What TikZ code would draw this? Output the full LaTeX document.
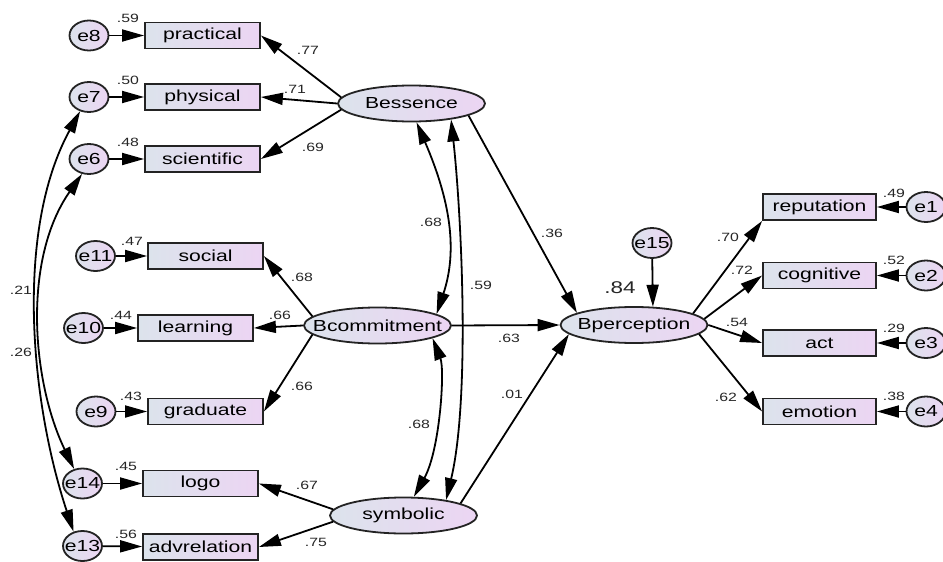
\documentclass[tikz,border=0pt]{standalone}
\usepackage{fontspec}
\usetikzlibrary{arrows.meta,shapes.geometric}
\newfontfamily\nf[FakeStretch=1.32]{Liberation Sans}
\definecolor{cL}{RGB}{220,227,236}
\definecolor{cR}{RGB}{236,213,243}
\definecolor{bord}{RGB}{35,35,35}
\tikzset{
  obs/.style={rectangle, draw=bord, line width=1.8pt, minimum width=115pt, minimum height=26pt,
    inner sep=0pt, left color=cL, right color=cR, font={\nf\fontsize{16}{16}\selectfont}},
  lat/.style={ellipse, draw=bord, line width=1.8pt, minimum width=147pt, minimum height=36pt,
    inner sep=0pt, left color=cL, right color=cR, font={\nf\fontsize{16}{16}\selectfont}},
  err/.style={ellipse, draw=bord, line width=1.8pt, minimum width=39pt, minimum height=30pt,
    inner sep=0pt, left color=cL, right color=cR, font={\nf\fontsize{16}{16}\selectfont}},
  lbl/.style={inner sep=0pt, font={\nf\fontsize{12}{12}\selectfont}, text=black!85},
  reg/.style={line width=1.8pt, draw=black, -{Triangle[length=22pt,width=12pt]}},
  cov/.style={line width=1.8pt, draw=black, {Triangle[length=22pt,width=12pt]}-{Triangle[length=22pt,width=12pt]}},
}
\begin{document}
\begin{tikzpicture}[x=1pt,y=-1pt]
\useasboundingbox (0,0) rectangle (943,562);
% observed variables
\node[obs] (prac) at (202.5,35.5) {practical};
\node[obs] (phys) at (202.5,97) {physical};
\node[obs] (sci) at (202.5,159) {scientific};
\node[obs] (soc) at (205.5,256) {social};
\node[obs] (lea) at (195.5,328) {learning};
\node[obs] (gra) at (205.5,411.5) {graduate};
\node[obs] (logo) at (200.5,483.5) {logo};
\node[obs] (adv) at (200.5,547) {advrelation};
\node[obs,minimum width=113pt] (rep) at (819.5,207) {reputation};
\node[obs,minimum width=113pt] (cog) at (819.5,275.5) {cognitive};
\node[obs,minimum width=113pt] (act) at (819.5,343) {act};
\node[obs,minimum width=113pt] (emo) at (819.5,411.5) {emotion};
% error terms
\node[err] (e8) at (89,35.5) {\makebox[0pt]{e8}};
\node[err] (e7) at (89,97) {\makebox[0pt]{e7}};
\node[err] (e6) at (89,159) {\makebox[0pt]{e6}};
\node[err] (e11) at (95.5,256) {\makebox[0pt]{e11}};
\node[err] (e10) at (83.5,328) {\makebox[0pt]{e10}};
\node[err] (e9) at (96,411.5) {\makebox[0pt]{e9}};
\node[err] (e14) at (82.5,483.5) {\makebox[0pt]{e14}};
\node[err] (e13) at (82.5,546) {\makebox[0pt]{e13}};
\node[err] (e15) at (652,243) {\makebox[0pt]{e15}};
\node[err] (e1) at (926,207) {\makebox[0pt]{e1}};
\node[err] (e2) at (926,275.5) {\makebox[0pt]{e2}};
\node[err] (e3) at (926,343) {\makebox[0pt]{e3}};
\node[err] (e4) at (926,411.5) {\makebox[0pt]{e4}};
% latent variables
\node[lat] (bess) at (411.5,103.5) {\makebox[0pt]{Bessence}};
\node[lat] (bcomm) at (377.5,325.5) {\makebox[0pt]{Bcommitment}};
\node[lat] (sym) at (403.5,515.5) {\makebox[0pt]{symbolic}};
\node[lat] (bper) at (634,325) {\makebox[0pt]{Bperception}};
% error arrows
\draw[reg] (e8) -- (prac);
\draw[reg] (e7) -- (phys);
\draw[reg] (e6) -- (sci);
\draw[reg] (e11) -- (soc);
\draw[reg] (e10) -- (lea);
\draw[reg] (e9) -- (gra);
\draw[reg] (e14) -- (logo);
\draw[reg] (e13) -- (adv);
\draw[reg] (e1) -- (rep);
\draw[reg] (e2) -- (cog);
\draw[reg] (e3) -- (act);
\draw[reg] (e4) -- (emo);
\draw[reg] (e15) -- (bper.44);
% loadings
\draw[reg] (bess.175) -- (prac.east);
\draw[reg] (bess.west) -- (phys.east);
\draw[reg] (bess.185) -- (sci.east);
\draw[reg] (bcomm.172) -- (soc.east);
\draw[reg] (bcomm.west) -- (lea.east);
\draw[reg] (bcomm.188) -- (gra.east);
\draw[reg] (sym.175) -- (logo.east);
\draw[reg] (sym.185) -- (adv.east);
\draw[reg] (bper.11) -- (rep.south west);
\draw[reg] (bper.5) -- (cog.west);
\draw[reg] (bper.east) -- (act.west);
\draw[reg] (bper.-8) -- (emo.west);
% structural paths
\draw[reg] (bess.-12) -- (bper.168);
\draw[reg] (bcomm.east) -- (bper.west);
\draw[reg] (sym.12) -- (bper.188);
% covariances
\draw[cov] (bess.-75) .. controls (450,200) and (458,250) .. (bcomm.11);
\draw[cov] (bess.-22) .. controls (462,220) and (470,400) .. (sym.20);
\draw[cov] (bcomm.-13) .. controls (445,370) and (440,450) .. (sym.61);
\draw[cov] (e7.-122) .. controls (15,230) and (30,400) .. (e13.122);
\draw[cov] (e6.-115) .. controls (22,260) and (32,382) .. (e14.120);
% labels
\node[lbl] (l59) at (128,18) {.59};
\node[lbl] (l50) at (128,80) {.50};
\node[lbl] (l48) at (128,142) {.48};
\node[lbl] (l77) at (308,50) {.77};
\node[lbl] (l71) at (295,89) {.71};
\node[lbl] (l69) at (313,147) {.69};
\node[lbl] (l47) at (132,241) {.47};
\node[lbl] (l44) at (121,315) {.44};
\node[lbl] (l66a) at (280,315) {.66};
\node[lbl] (l68a) at (302,277) {.68};
\node[lbl] (l66b) at (302,386) {.66};
\node[lbl] (l43) at (131,396) {.43};
\node[lbl] (l45) at (126,466) {.45};
\node[lbl] (l56) at (126,534) {.56};
\node[lbl] (l67) at (307,485) {.67};
\node[lbl] (l75) at (316,542) {.75};
\node[lbl] (l68b) at (431,222) {.68};
\node[lbl] (l59b) at (481,285) {.59};
\node[lbl] (l36) at (552,233) {.36};
\node[lbl] (l63) at (509,338) {.63};
\node[lbl] (l68c) at (419,424) {.68};
\node[lbl] (l01) at (512,394) {.01};
\node[lbl] (l21) at (21,290) {.21};
\node[lbl] (l26) at (21,352) {.26};
\node[lbl,font={\nf\fontsize{17}{17}\selectfont}] (l84) at (620,288) {.84};
\node[lbl] (l70) at (728,237) {.70};
\node[lbl] (l72) at (742,270) {.72};
\node[lbl] (l54) at (737,322) {.54};
\node[lbl] (l62) at (726,397) {.62};
\node[lbl] (l49) at (894,193) {.49};
\node[lbl] (l52) at (894,260) {.52};
\node[lbl] (l29) at (894,328) {.29};
\node[lbl] (l38) at (894,396) {.38};
\end{tikzpicture}
\end{document}
